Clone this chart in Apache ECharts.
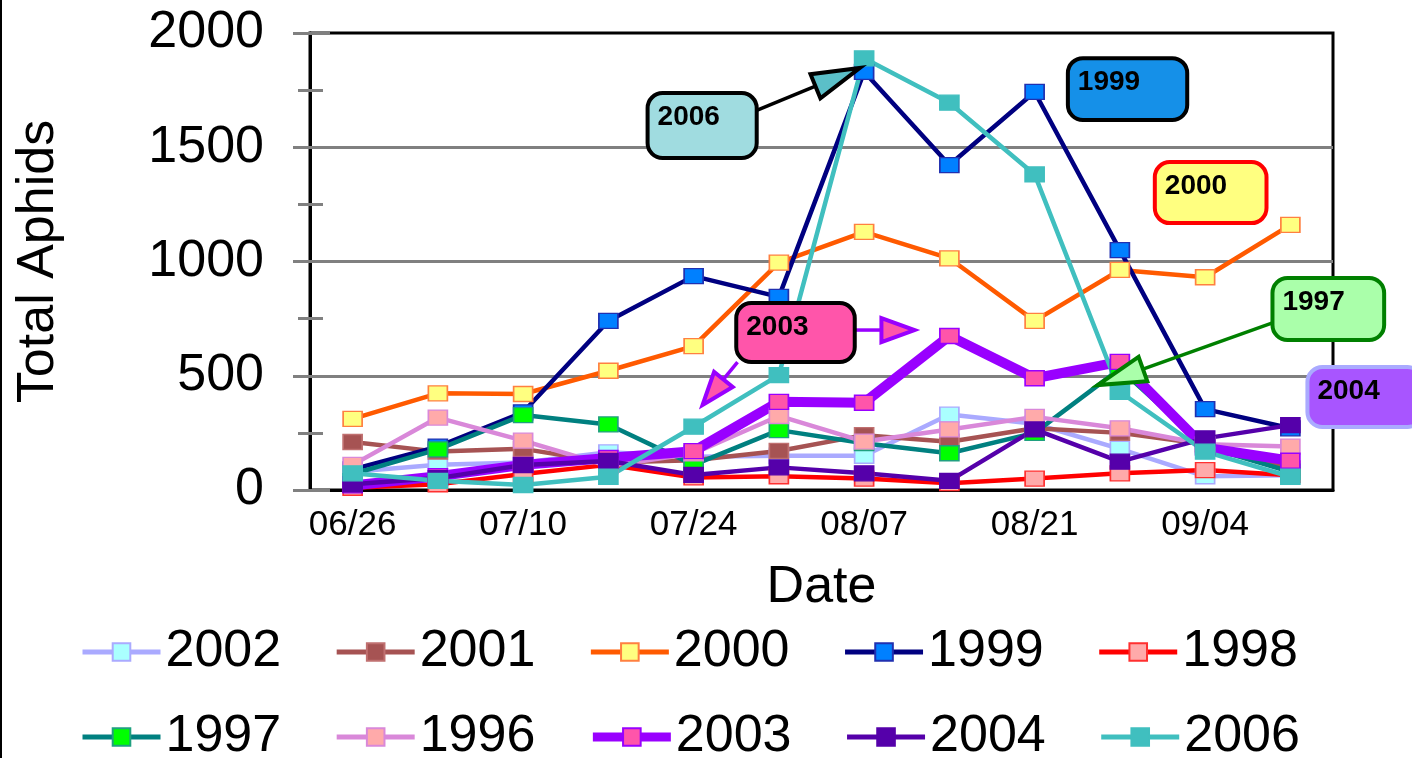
<!DOCTYPE html>
<html>
<head>
<meta charset="utf-8">
<script src="https://cdn.jsdelivr.net/npm/echarts@6/dist/echarts.min.js"></script>
<style>
html,body{margin:0;padding:0;background:#fff}
#main{width:1412px;height:758px}
</style>
</head>
<body>
<div id="main"></div>
<script>
// weekly sampling dates
var dates = ['06/26','07/03','07/10','07/17','07/24','07/31','08/07','08/14','08/21','08/28','09/04','09/11'];

// total aphids per year
var y2002 = [80, 110, 120, 165, 146, 150, 150, 330, 290, 180, 60, 65];
var y2001 = [210, 168, 180, 120, 130, 171, 240, 211, 270, 250, 200, 95];
var y2000 = [311, 423, 420, 522, 630, 995, 1130, 1014, 740, 963, 931, 1160];
var y1999 = [90, 190, 340, 740, 936, 845, 1830, 1422, 1742, 1050, 354, 270];
var y1998 = [10, 25, 70, 110, 55, 60, 50, 30, 50, 73, 87, 65];
var y1997 = [70, 178, 328, 287, 110, 262, 205, 161, 250, 530, 190, 80];
var y1996 = [110, 317, 216, 105, 160, 324, 212, 265, 320, 270, 200, 190];
var y2003 = [20, 60, 110, 140, 170, 386, 382, 674, 489, 561, 185, 128];
var y2004 = [25, 52, 109, 127, 66, 99, 73, 40, 265, 124, 226, 284];
var y2006 = [73, 40, 22, 58, 277, 503, 1889, 1695, 1381, 430, 168, 58];

var seriesNames = ['2002','2001','2000','1999','1998','1997','1996','2003','2004','2006'];
var seriesData = [y2002, y2001, y2000, y1999, y1998, y1997, y1996, y2003, y2004, y2006];

var lineColors   = ['#AAAAFF','#A65353','#FF5A00','#000080','#FF0000','#008080','#D988D9','#9900FF','#5500AA','#40BFBF'];
var fillColors   = ['#AAFFFF','#A65353','#FFFF80','#0080FF','#FFAAAA','#00FF00','#FFAAAA','#FF55AA','#5500AA','#40BFBF'];
var borderColors = ['#AAAAFF','#C07070','#FF8040','#2030B0','#FF3030','#20A080','#D988D9','#9900FF','#5500AA','#40BFBF'];
var lineWidths   = [4.5, 4.5, 4.5, 4.5, 4.5, 4.5, 4.5, 10, 4.5, 4.5];

// callout boxes in data units: [xFrom, xTo, yTop, yBottom]
var callouts = [
    {text:'2006', box:[3.46, 4.74, 1737, 1453], fill:'#A0DCE0', stroke:'#000000'},
    {text:'1999', box:[8.39, 9.79, 1890, 1619], fill:'#1590E8', stroke:'#000000'},
    {text:'2000', box:[9.41, 10.72, 1435, 1168], fill:'#FFFF80', stroke:'#FF0000'},
    {text:'1997', box:[10.79, 12.10, 928, 656], fill:'#AAFFAA', stroke:'#008000'},
    {text:'2004', box:[11.20, 12.55, 538, 276], fill:'#A855FF', stroke:'#AAAAFF'},
    {text:'2003', box:[4.50, 5.89, 818, 560], fill:'#FF55AA', stroke:'#000000'}
];
var arrows = [
    {from:[4.69, 1654], to:[5.95, 1847], line:'#000000', head:'#5BBFC8', headStroke:'#000000', len:48, half:13},
    {from:[10.79, 731], to:[8.74, 459], line:'#008000', head:'#AAFFAA', headStroke:'#008000', len:48, half:13},
    {from:[5.89, 700], to:[6.59, 700], line:'#9900FF', head:'#FF55AA', headStroke:'#9900FF', len:33, half:12},
    {from:[4.515, 560], to:[4.105, 372], line:'#9900FF', head:'#FF55AA', headStroke:'#9900FF', len:33, half:12}
];

var series = [];
var legendItems = [];
for (var i = 0; i < seriesNames.length; i++) {
    series.push({
        name: seriesNames[i],
        type: 'line',
        data: seriesData[i],
        symbol: 'rect',
        symbolSize: [19, 15],
        lineStyle: {color: lineColors[i], width: lineWidths[i]},
        itemStyle: {color: fillColors[i], borderColor: borderColors[i], borderWidth: 1.5},
        emphasis: {disabled: true}
    });
    legendItems.push({name: seriesNames[i], lineStyle: {width: lineWidths[i] > 5 ? 9 : 5}});
}

var tickGray = '#808080';
var legendBase = {
    left: 75, width: 1330,
    itemWidth: 78, itemHeight: 22, itemGap: 53,
    textStyle: {fontSize: 52, color: '#000'}
};
var option = {
    animation: false,
    textStyle: {fontFamily: '"Liberation Sans", Arial, sans-serif'},
    grid: {left: 310, right: 79, top: 33, bottom: 268, show: true, borderColor: '#000', borderWidth: 3, containLabel: false, outerBoundsMode: 'none'},
    legend: [
        echarts.util.extend({data: legendItems.slice(0, 5), top: 621}, legendBase),
        echarts.util.extend({data: legendItems.slice(5), top: 706}, legendBase)
    ],
    xAxis: {
        type: 'category',
        data: dates,
        boundaryGap: true,
        name: 'Date', nameLocation: 'middle', nameGap: 72,
        nameTextStyle: {fontSize: 52, color: '#000'},
        axisLine: {lineStyle: {color: '#000', width: 3}},
        axisTick: {alignWithLabel: true, interval: 0, length: 13, lineStyle: {color: tickGray, width: 5}},
        axisLabel: {interval: 1, fontSize: 35, color: '#000', margin: 18},
        splitLine: {show: false}
    },
    yAxis: [{
        type: 'value', min: 0, max: 2000, interval: 500,
        name: 'Total Aphids', nameLocation: 'middle', nameGap: 245,
        nameTextStyle: {fontSize: 52, color: '#000'},
        axisLine: {show: true, lineStyle: {color: '#000', width: 3}},
        axisTick: {show: true, length: 17, lineStyle: {color: tickGray, width: 3}},
        minorTick: {show: true, splitNumber: 2, length: 12, lineStyle: {color: tickGray, width: 3}},
        axisLabel: {fontSize: 52, color: '#000', margin: 46, formatter: function (v) { return String(v); }},
        splitLine: {show: true, showMinLine: false, showMaxLine: false, lineStyle: {color: tickGray, width: 3}}
    }, {
        type: 'value', min: 0, max: 2000, interval: 500, position: 'left', offset: 0,
        axisLine: {show: false},
        axisLabel: {show: false},
        splitLine: {show: false},
        axisTick: {show: true, inside: true, length: 20, lineStyle: {color: tickGray, width: 3}},
        minorTick: {show: true, splitNumber: 2, length: 13, lineStyle: {color: tickGray, width: 3}}
    }],
    series: series
};

var myChart = echarts.init(document.getElementById('main'));
myChart.setOption(option);

// callouts: placed in data units, turned into pixels through the axes
var x0 = myChart.convertToPixel({xAxisIndex: 0}, dates[0]);
var x1 = myChart.convertToPixel({xAxisIndex: 0}, dates[1]);
function px(f) { return x0 + f * (x1 - x0); }
function py(v) { return myChart.convertToPixel({yAxisIndex: 0}, v); }

var graphics = [{
    type: 'rect', left: 0, top: 0, shape: {width: 2, height: 758}, style: {fill: '#000'}, z: 100
}];
for (var a = 0; a < arrows.length; a++) {
    var ar = arrows[a];
    var tx = px(ar.from[0]), ty = py(ar.from[1]);
    var hx = px(ar.to[0]), hy = py(ar.to[1]);
    var dx = hx - tx, dy = hy - ty;
    var d = Math.sqrt(dx * dx + dy * dy);
    var ux = dx / d, uy = dy / d;
    var bx = hx - ux * ar.len, by = hy - uy * ar.len;
    graphics.push({
        type: 'line', z: 100,
        shape: {x1: tx, y1: ty, x2: bx, y2: by},
        style: {stroke: ar.line, lineWidth: 3.5}
    });
    graphics.push({
        type: 'polygon', z: 101,
        shape: {points: [[hx, hy], [bx - uy * ar.half, by + ux * ar.half], [bx + uy * ar.half, by - ux * ar.half]]},
        style: {fill: ar.head, stroke: ar.headStroke, lineWidth: 4, lineJoin: 'miter'}
    });
}
for (var c = 0; c < callouts.length; c++) {
    var co = callouts[c];
    var l = px(co.box[0]), r = px(co.box[1]);
    var t = py(co.box[2]), b = py(co.box[3]);
    graphics.push({
        type: 'rect', z: 102,
        shape: {x: l, y: t, width: r - l, height: b - t, r: 15},
        style: {fill: co.fill, stroke: co.stroke, lineWidth: 4}
    });
    graphics.push({
        type: 'text', z: 103,
        style: {
            text: co.text, x: l + 10, y: t + 24,
            fontSize: 28, fontWeight: 'bold', fontFamily: '"Liberation Sans", Arial, sans-serif',
            fill: '#000', verticalAlign: 'middle'
        }
    });
}
myChart.setOption({graphic: graphics});
</script>
</body>
</html>
